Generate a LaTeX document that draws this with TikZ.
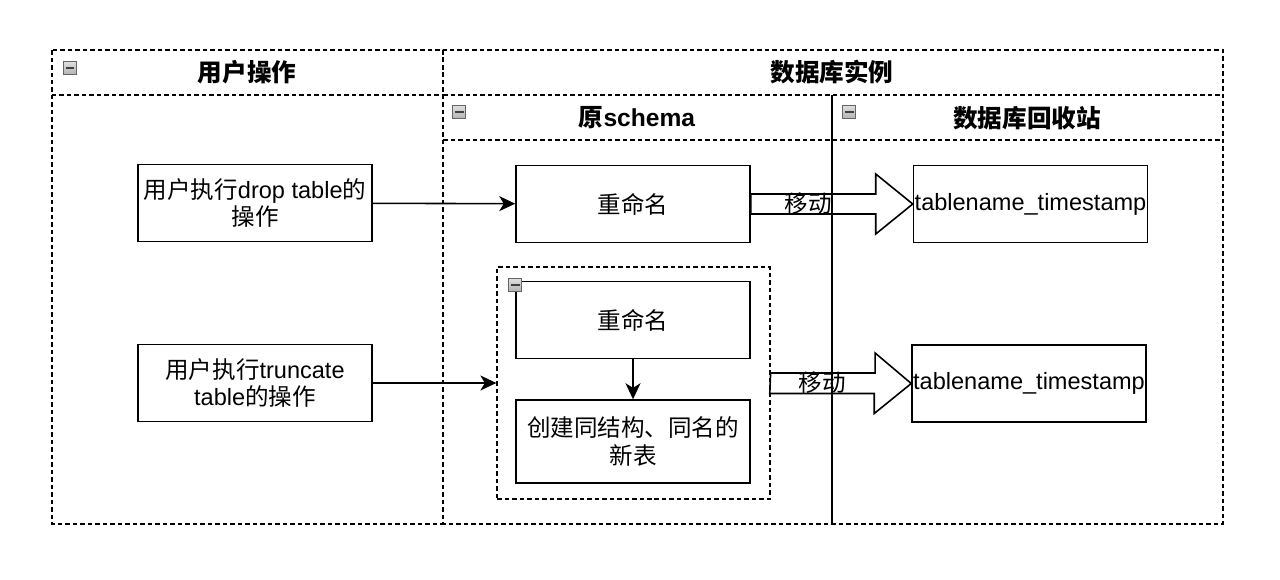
\documentclass[tikz,border=0pt]{standalone}
\usepackage{fontspec}
\setmainfont{Liberation Sans}
\newfontfamily\cjk{Noto Sans CJK SC}
\newcommand{\zh}[1]{{\cjk #1}}
\usetikzlibrary{positioning,arrows.meta}

\begin{document}
\begin{tikzpicture}[x=0.02cm,y=-0.02cm,>={Stealth[length=0.32cm,width=0.3cm,inset=0.09cm]},
  font=\fontsize{13.4}{15.5}\selectfont,
  lane/.style={draw,dash pattern=on 0.09cm off 0.06cm,line width=0.75pt},
  title/.style={font=\fontsize{14}{16}\selectfont\bfseries},
  stepbox/.style={draw,line width=0.9pt,minimum width=4.68cm,minimum height=1.54cm,
    align=center,inner xsep=0pt,inner ysep=1pt},
  movearrow/.style={draw,line width=0.9pt,line join=miter},
  collapse/.style={draw=gray!80!black,line width=0.4pt,top color=gray!25,bottom color=gray!60,
    text=black!75,minimum size=0.26cm,inner sep=0pt}]
  \useasboundingbox (0,0) rectangle (1280,579);

  % --- Pools and lanes ---
  \draw[lane] (52,50) rectangle (443,524);
  \draw[lane] (52,95) -- (443,95);
  \draw[lane] (443,50) rectangle (1223,524);
  \draw[lane] (443,95) -- (1223,95);
  \draw[lane] (443,140) -- (1223,140);
  \draw[line width=0.75pt] (832,95) -- (832,524);

  % --- Headers ---
  \node[title] (hUser) at (247,72) {\zh{用户操作}};
  \node[title] (hDb) at (832,72) {\zh{数据库实例}};
  \node[title] (hSchema) at (637,118) {\zh{原}schema};
  \node[title] (hBin) at (1027,118) {\zh{数据库回收站}};
  \node[collapse] (cUser) at (70,68) {\rule{0.18cm}{0.05cm}};
  \node[collapse] (cSchema) at (459,112) {\rule{0.18cm}{0.05cm}};
  \node[collapse] (cBin) at (849,112) {\rule{0.18cm}{0.05cm}};

  % --- User actions ---
  \node[stepbox] (drop) at (255,203) {\zh{用户执行}drop table\zh{的}\\\zh{操作}};
  \node[stepbox] (trunc) at (255,383) {\zh{用户执行}truncate\\table\zh{的操作}};

  % --- Original schema ---
  \node[stepbox] (ren1) at (633,204) {\zh{重命名}};
  \node[lane,minimum width=5.46cm,minimum height=4.64cm] (grp) at (633.5,383) {};
  \node[stepbox] (ren2) at (633,320) {\zh{重命名}};
  \node[stepbox,minimum height=1.66cm] (create) [below=0.8cm of ren2] {\zh{创建同结构、同名的}\\\zh{新表}};
  \node[collapse] (cGrp) at (515,285) {\rule{0.18cm}{0.05cm}};

  % --- Recycle bin ---
  \node[stepbox] (ts1) [right=3.24cm of ren1] {tablename\_timestamp};
  \node[stepbox] (ts2) at (1029,383.5) {tablename\_timestamp};

  % --- Connectors ---
  \draw[->,line width=0.9pt] (drop) -- (ren1);
  \draw[->,line width=0.9pt] (trunc) -- (grp);
  \draw[->,line width=0.9pt] (ren2) -- (create);

  % --- Move arrows ---
  \draw[movearrow] (ren1.east) ++(0,-10) -- ++(125,0) -- ++(0,-20) -- (ts1.west)
    -- ++(-37,30) -- ++(0,-20) -- ++(-125,0) -- cycle;
  \draw[movearrow] (grp.east) ++(0,-10) -- ++(104.5,0) -- ++(0,-20) -- (ts2.west)
    -- ++(-37,30) -- ++(0,-20) -- ++(-104.5,0) -- cycle;
  \node (mv1) at (808,204) {\zh{移动}};
  \node (mv2) at (822,383) {\zh{移动}};
\end{tikzpicture}
\end{document}
